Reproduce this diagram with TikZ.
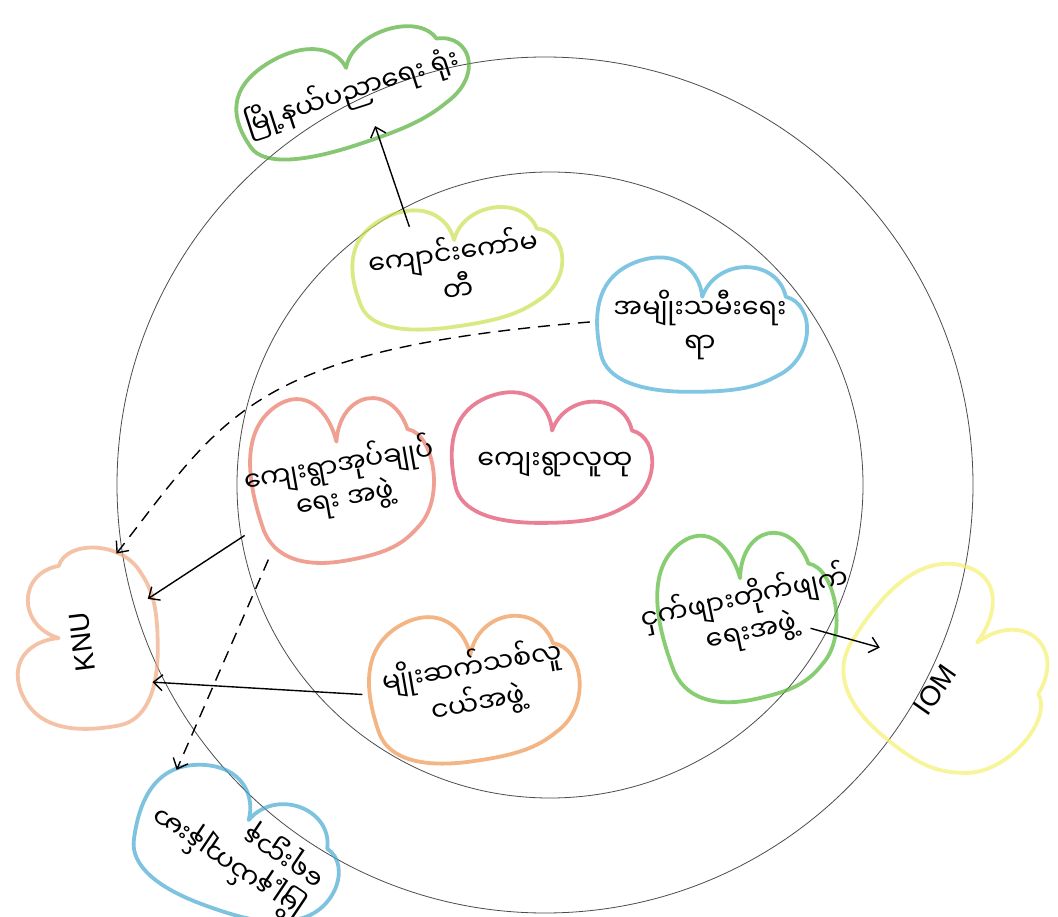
\documentclass[tikz,border=0pt]{standalone}
\usepackage{fontspec}
\newfontfamily\mm[Script=Myanmar]{Noto Sans Myanmar UI}
\newfontfamily\lat{Liberation Sans}
\usetikzlibrary{shapes.geometric,arrows.meta}
\definecolor{cOffice}{RGB}{85,175,55}
\definecolor{cSchool}{RGB}{205,225,80}
\definecolor{cWomen}{RGB}{75,175,215}
\definecolor{cAdmin}{RGB}{235,120,100}
\definecolor{cComm}{RGB}{225,75,105}
\definecolor{cMal}{RGB}{85,185,55}
\definecolor{cYouth}{RGB}{240,150,80}
\definecolor{cHealth}{RGB}{70,170,210}
\definecolor{cKNU}{RGB}{240,170,130}
\definecolor{cIOM}{RGB}{245,240,110}
\begin{document}
\begin{tikzpicture}[x=1pt,y=-1pt,
  hole/.style={shape=ellipse, inner sep=0pt, draw=none},
  cloudline/.style={line width=3.8pt, draw opacity=0.7, line join=round, line cap=round},
  hcloud/.pic={\draw[pic actions] (-0.1,-0.97) .. controls (-0.55,-0.97) and (-0.85,-0.8) .. (-0.9,-0.45)
     .. controls (-0.98,0.1) and (-0.95,0.65) .. (-0.55,0.85)
     .. controls (-0.2,1.02) and (0.0,0.7) .. (0.02,0.35)
     .. controls (0.15,0.9) and (0.7,0.9) .. (0.78,0.35)
     .. controls (1.05,0.25) and (1.05,-0.5) .. (0.7,-0.75)
     .. controls (0.5,-0.92) and (0.3,-0.97) .. (-0.1,-0.97) -- cycle;},
  txt/.style={font=\mm\fontsize{27}{34}\selectfont, align=center, inner sep=0pt},
  lattxt/.style={font=\lat\fontsize{28}{32}\selectfont, inner sep=0pt},
  circ/.style={draw=black!70, line width=0.8pt},
  arr/.style={draw=black, line width=1.4pt, -{Straight Barb[length=9pt,width=16pt]}},
  dsh/.style={arr, dash pattern=on 12pt off 8pt}]
\useasboundingbox (0,0) rectangle (1058,917);
\fill[white] (0,0) rectangle (1058,917);
% circles
\draw[circ] (545,485) circle[radius=428];
\draw[circ] (550,485) circle[radius=313];
% cloud holders (named)
\node[hole, minimum width=250, minimum height=116, rotate=18] (office) at (350,88) {};
\node[hole, minimum width=220, minimum height=130, rotate=8] (school) at (455,263) {};
\node[hole, minimum width=220, minimum height=144] (women) at (700,322) {};
\node[hole, minimum width=190, minimum height=180, rotate=10] (admin) at (340,473) {};
\node[hole, minimum width=210, minimum height=140] (comm) at (550,455) {};
\node[hole, minimum width=184, minimum height=184, rotate=12] (mal) at (745,610) {};
\node[hole, minimum width=220, minimum height=160, rotate=8] (youth) at (472,683) {};
\node[hole, minimum width=220, minimum height=144, rotate=-20] (health) at (238,843) {};
\node[hole, minimum width=190, minimum height=150, rotate=90] (knu) at (85,640) {};
\node[hole, minimum width=210, minimum height=200, rotate=-40] (iom) at (953,668) {};
% cloud outlines
\pic[draw=cOffice, cloudline, rotate=18, xscale=125, yscale=-58] at (office) {hcloud};
\pic[draw=cSchool, cloudline, rotate=8, xscale=110, yscale=-65] at (school) {hcloud};
\pic[draw=cWomen, cloudline, xscale=110, yscale=-72] at (women) {hcloud};
\pic[draw=cAdmin, cloudline, rotate=10, xscale=95, yscale=-90] at (admin) {hcloud};
\pic[draw=cComm, cloudline, xscale=105, yscale=-70] at (comm) {hcloud};
\pic[draw=cMal, cloudline, rotate=12, xscale=92, yscale=-92] at (mal) {hcloud};
\pic[draw=cYouth, cloudline, rotate=8, xscale=110, yscale=-80] at (youth) {hcloud};
\pic[draw=cHealth, cloudline, rotate=-20, xscale=110, yscale=-72] at (health) {hcloud};
\pic[draw=cKNU, cloudline, rotate=90, xscale=95, yscale=-75] at (knu) {hcloud};
\pic[draw=cIOM, cloudline, rotate=-40, xscale=105, yscale=-100] at (iom) {hcloud};
% texts
\node[txt, rotate=18] (officeT) at (352,92) {မြို့နယ်ပညာရေး ရုံး};
\node[txt, rotate=8] (schoolT) at (455,268) {ကျောင်းကော်မ\\တီ};
\node[txt] (womenT) at (700,325) {အမျိုးသမီးရေး\\ရာ};
\node[txt, rotate=10] (adminT) at (342,482) {ကျေးရွာအုပ်ချုပ်\\ရေး အဖွဲ့};
\node[txt] (commT) at (555,465) {ကျေးရွာလူထု};
\node[txt, rotate=12] (malT) at (748,615) {ငှက်ဖျားတိုက်ဖျက်\\ရေးအဖွဲ့};
\node[txt, rotate=10] (youthT) at (475,685) {မျိုးဆက်သစ်လူ\\ငယ်အဖွဲ့};
\node[txt, rotate=146, align=left] (healthT) at (238,848) {မြို့နယ်ကျန်းမာ\\ရေးဌာန};
\node[lattxt, rotate=97] (knuT) at (82,642) {KNU};
\node[lattxt, rotate=55] (iomT) at (935,690) {IOM};
% connectors
\draw[arr, shorten <=-18pt, shorten >=-14pt] (school.126) -- (office.-78);
\draw[dsh] (women.180) .. controls (250,350) and (225,415) .. (knu.-20);
\draw[arr, shorten <=114pt, shorten >=75pt] (admin.center) -- (knu.center);
\draw[arr] (youth.178) -- (knu.-122);
\draw[dsh, shorten <=20pt] (admin.217) -- (health.150);
\draw[arr, shorten <=68pt, shorten >=76pt] (mal.center) -- (iom.center);
\end{tikzpicture}
\end{document}
